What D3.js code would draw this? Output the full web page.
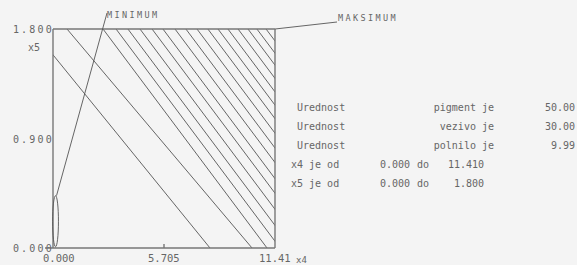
<!DOCTYPE html>
<html>
<head>
<meta charset="utf-8">
<script src="https://cdn.jsdelivr.net/npm/d3@7"></script>
<style>
  body { margin: 0; background: #f4f4f4; }
  svg { display: block; }
  text { font-family: "DejaVu Sans Mono", monospace; fill: #666; }
</style>
</head>
<body>
<svg id="chart" width="577" height="265"></svg>
<script>
// x4 / x5 domain
const x4Range = [0, 11.41];
const x5Range = [0, 1.8];
const x4Ticks = ["0.000", "5.705", "11.41"];
const x5Ticks = ["0.000", "0.900", "1.800"];

// contour lines: x4 where each line meets x5 = 1.8 (top) and x5 = 0 (bottom, extended past the box)
const contourTop = [-1.08, 0.72, 2.57, 3.24, 3.85, 4.47, 5.09, 5.65, 6.27, 6.83, 7.40, 7.96,
    8.48, 8.99, 9.51, 10.02, 10.48, 10.95];
const contourBottom = [8.07, 10.23, 11.00, 11.67, 12.28, 12.90, 13.52, 14.08, 14.70, 15.26, 15.83,
    16.39, 16.91, 17.42, 17.94, 18.45, 18.91, 19.38];

// minimum region (ellipse in data units)
const minCenter = [0.13, 0.22];
const minRadius = [0.15, 0.21];

// info panel text
const infoRows = [
    ["Urednost", "pigment je", "50.00"],
    ["Urednost", "vezivo je", "30.00"],
    ["Urednost", "polnilo je", "9.99"]
];
const rangeRows = [
    ["x4 je od", "0.000", "do", "11.410"],
    ["x5 je od", "0.000", "do", "1.800"]
];

const svg = d3.select("#chart");
const margin = {top: 29, right: 302, bottom: 17, left: 53};
const width = +svg.attr("width");
const height = +svg.attr("height");

const x = d3.scaleLinear().domain(x4Range).range([margin.left, width - margin.right]);
const y = d3.scaleLinear().domain(x5Range).range([height - margin.bottom, margin.top]);

svg.append("clipPath").attr("id", "plot-clip")
    .append("rect")
    .attr("x", x(0)).attr("y", y(1.8))
    .attr("width", x(11.41) - x(0)).attr("height", y(0) - y(1.8));

const contours = contourTop.map((t, i) => ({top: t, bottom: contourBottom[i]}));

// contour lines
svg.append("g")
    .attr("clip-path", "url(#plot-clip)")
    .selectAll("line")
    .data(contours)
    .enter().append("line")
    .attr("x1", d => x(d.top))
    .attr("y1", y(x5Range[1]))
    .attr("x2", d => x(d.bottom))
    .attr("y2", y(0))
    .attr("stroke", "#555")
    .attr("stroke-width", 0.9);

// frame
const frame = svg.append("g").attr("stroke", "#777").attr("stroke-width", 1.4).attr("fill", "none");
frame.append("line").attr("x1", x(0)).attr("x2", x(11.41)).attr("y1", y(1.8)).attr("y2", y(1.8));
frame.append("line").attr("x1", x(0) - 8).attr("x2", x(11.41)).attr("y1", y(0)).attr("y2", y(0));
frame.append("line").attr("x1", x(0)).attr("x2", x(0)).attr("y1", y(0)).attr("y2", y(1.8));
frame.append("line").attr("x1", x(11.41)).attr("x2", x(11.41)).attr("y1", y(0)).attr("y2", y(1.8));
frame.append("line").attr("x1", x(5.705)).attr("x2", x(5.705)).attr("y1", y(0)).attr("y2", y(0) - 4);

// axis labels
svg.append("g").selectAll("text")
    .data(x5Ticks)
    .enter().append("text")
    .attr("x", x(0) + 1)
    .attr("y", d => y(+d) + 4)
    .attr("text-anchor", "end")
    .attr("font-size", 10)
    .attr("letter-spacing", 2.2)
    .text(d => d);

svg.append("text").attr("x", 28).attr("y", y(1.8) + 22).attr("font-size", 10).text("x5");

svg.append("g").selectAll("text")
    .data(x4Ticks)
    .enter().append("text")
    .attr("x", (d, i) => i === 0 ? x(+d) - 10 : x(+d) - 16)
    .attr("y", y(0) + 14)
    .attr("font-size", 10.5)
    .text(d => d);

svg.append("text").attr("x", x(11.41) + 21).attr("y", y(0) + 15).attr("font-size", 9).text("x4");

// minimum marker
const minCx = x(minCenter[0]), minCy = y(minCenter[1]);
const minRx = x(minRadius[0]) - x(0), minRy = y(0) - y(minRadius[1]);
svg.append("ellipse")
    .attr("cx", minCx).attr("cy", minCy)
    .attr("rx", minRx).attr("ry", minRy)
    .attr("fill", "none").attr("stroke", "#555").attr("stroke-width", 0.9);
svg.append("line")
    .attr("x1", 107).attr("y1", 13)
    .attr("x2", minCx + 1).attr("y2", minCy - minRy)
    .attr("stroke", "#555").attr("stroke-width", 0.9);
svg.append("text").attr("x", 107).attr("y", 18).attr("font-size", 8.5)
    .attr("letter-spacing", 2.4).text("MINIMUM");

// maximum marker
svg.append("line")
    .attr("x1", x(11.41)).attr("y1", y(1.8))
    .attr("x2", 337).attr("y2", 22)
    .attr("stroke", "#555").attr("stroke-width", 0.9);
svg.append("text").attr("x", 338).attr("y", 21).attr("font-size", 8.5)
    .attr("letter-spacing", 2.4).text("MAKSIMUM");

// info panel
const info = svg.append("g").attr("font-size", 10);
infoRows.forEach((r, i) => {
    const ty = 111 + i * 19;
    info.append("text").attr("x", 297).attr("y", ty).text(r[0]);
    info.append("text").attr("x", 494).attr("y", ty).attr("text-anchor", "end").text(r[1]);
    info.append("text").attr("x", 575).attr("y", ty).attr("text-anchor", "end").text(r[2]);
});
rangeRows.forEach((r, i) => {
    const ty = 168 + i * 19;
    info.append("text").attr("x", 291).attr("y", ty).text(r[0]);
    info.append("text").attr("x", 380).attr("y", ty).text(r[1]);
    info.append("text").attr("x", 417).attr("y", ty).text(r[2]);
    info.append("text").attr("x", 484).attr("y", ty).attr("text-anchor", "end").text(r[3]);
});
</script>
</body>
</html>
